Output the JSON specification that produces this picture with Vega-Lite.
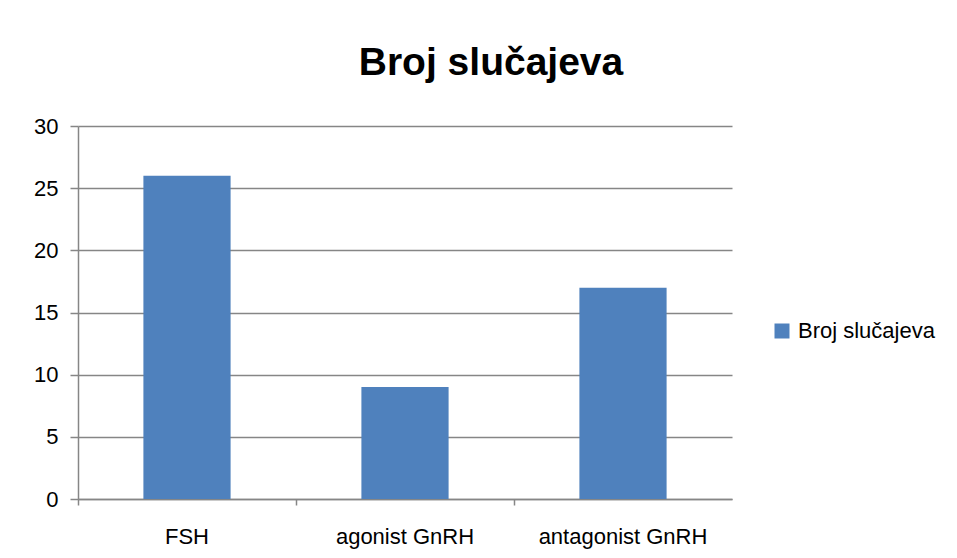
{
  "$schema": "https://vega.github.io/schema/vega-lite/v6.json",
  "autosize": "none",
  "width": 654,
  "height": 373,
  "padding": {"left": 78, "top": 126, "right": 225, "bottom": 59},
  "background": "white",
  "data": {"values": [
    {"kategorija": "FSH", "broj": 26, "serija": "Broj slučajeva"},
    {"kategorija": "agonist GnRH", "broj": 9, "serija": "Broj slučajeva"},
    {"kategorija": "antagonist GnRH", "broj": 17, "serija": "Broj slučajeva"}
  ]},
  "title": {
    "text": "Broj slučajeva",
    "font": "Liberation Sans",
    "fontSize": 39,
    "fontWeight": "bold",
    "color": "black",
    "anchor": "middle",
    "dx": 86,
    "baseline": "alphabetic",
    "offset": 1
  },
  "mark": {"type": "bar", "width": {"band": 0.4}, "color": "#4F81BD"},
  "encoding": {
    "x": {
      "field": "kategorija",
      "type": "nominal",
      "sort": null,
      "scale": {"paddingInner": 0, "paddingOuter": 0},
      "axis": {
        "title": null,
        "labelAngle": 0,
        "labelFont": "Liberation Sans",
        "labelFontSize": 22,
        "labelColor": "black",
        "labelPadding": 31,
        "labelBaseline": "middle",
        "bandPosition": 0,
        "tickSize": 6,
        "tickColor": "#868686",
        "domainColor": "#868686",
        "domainWidth": 1.5,
        "tickWidth": 1.5
      }
    },
    "y": {
      "field": "broj",
      "type": "quantitative",
      "scale": {"domain": [0, 30]},
      "axis": {
        "title": null,
        "values": [0, 5, 10, 15, 20, 25, 30],
        "labelFont": "Liberation Sans",
        "labelFontSize": 22,
        "labelColor": "black",
        "labelPadding": 12,
        "tickSize": 8,
        "tickColor": "#868686",
        "domainColor": "#868686",
        "domainWidth": 1.5,
        "tickWidth": 1.5,
        "gridColor": "#868686",
        "gridWidth": 1.5
      }
    },
    "color": {
      "field": "serija",
      "type": "nominal",
      "scale": {"range": ["#4F81BD"]},
      "legend": {
        "title": null,
        "orient": "none",
        "legendX": 693,
        "legendY": 194,
        "symbolType": "square",
        "symbolSize": 225,
        "symbolStrokeWidth": 0,
        "labelFont": "Liberation Sans",
        "labelFontSize": 22,
        "labelColor": "black",
        "labelOffset": 5
      }
    }
  },
  "config": {"view": {"stroke": null}}
}
